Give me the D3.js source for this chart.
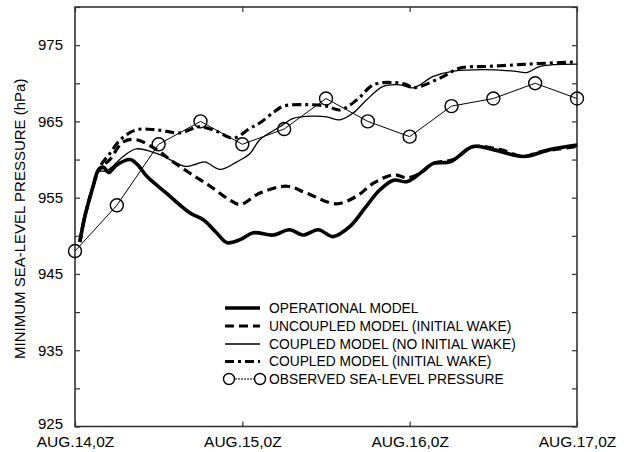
<!DOCTYPE html>
<html>
<head>
<meta charset="utf-8">
<script src="https://cdn.jsdelivr.net/npm/d3@7"></script>
<style>
  body { margin: 0; background: #fff; }
  svg { display: block; font-family: "Liberation Sans", Arial, sans-serif; }
  .tick line { stroke: #333; stroke-width: 1.2; }
</style>
</head>
<body>
<div id="chart"></div>
<script>
// hours after AUG.14,0Z and minimum sea-level pressure (hPa)
const xTickHours = [0, 24, 48, 72];
const xTickLabels = ['AUG.14,0Z', 'AUG.15,0Z', 'AUG.16,0Z', 'AUG.17,0Z'];

const operational = [[0.7,949.2],[1.4,952.5],[2.6,956.5],[3.3,958.5],[4.1,959.0],[4.8,958.3],[6.0,959.3],[7.9,960.0],[9.0,959.3],[10.3,957.8],[13.1,955.6],[16.5,953.0],[18.4,952.1],[20.3,950.4],[21.8,949.1],[23.7,949.5],[25.6,950.4],[28.4,950.1],[30.8,950.8],[32.7,950.1],[34.9,950.8],[37,949.9],[39.4,951.2],[41.8,953.9],[43.7,956.0],[45.7,957.3],[47.6,957.1],[49.5,958.2],[51.4,959.5],[53.8,959.7],[57.1,961.7],[60,961.3],[64.3,960.4],[68.1,961.3],[72,961.9]];

const uncoupledWake = [[0.7,949.2],[1.4,952.5],[2.6,956.5],[3.3,958.6],[4.1,959.3],[5.0,960.0],[6.9,962.3],[8.8,962.6],[11.7,961.3],[13.6,960.0],[16.5,958.2],[19.4,956.5],[22.2,954.7],[23.7,954.1],[26.5,955.6],[30.4,956.5],[33.2,955.6],[37.5,954.2],[40.4,955.2],[42.8,956.9],[45.7,958.0],[47.6,957.6],[49.5,958.2],[51.4,959.5],[54.3,960.0],[57.1,961.7],[61,961.3],[64.3,960.4],[66.7,961.0],[72,961.7]];

const coupledNoWake = [[0.7,949.2],[1.4,952.5],[2.6,956.5],[3.3,958.4],[4.5,958.5],[5.5,959.2],[6.9,960.4],[8.8,961.4],[11.7,960.8],[13.6,960.0],[15.8,959.1],[17.0,959.3],[18.6,959.7],[20.8,958.7],[23.2,959.7],[25.1,960.8],[26.5,962.6],[29.4,964.3],[31.3,965.4],[34.2,965.7],[36.1,965.6],[38,965.2],[39.9,966.1],[41.8,967.8],[44.2,969.6],[46.6,969.8],[48.5,969.4],[51.4,970.9],[54.3,971.6],[58.6,971.8],[62.9,971.6],[64.8,971.4],[66.7,972.2],[72,972.5]];

const coupledWake = [[0.7,949.2],[1.4,952.5],[2.6,956.5],[3.6,959.1],[5.0,960.8],[6.5,962.6],[8.8,963.9],[11.7,963.9],[15.1,963.5],[17.9,964.3],[20.3,963.7],[22.7,962.8],[25.1,964.1],[26.5,964.8],[28.5,966.2],[29.9,967.0],[33.2,967.2],[36.1,967.0],[38,966.5],[40.4,967.8],[42.8,969.8],[45.7,970.1],[47.6,969.8],[48.5,969.4],[52.4,970.7],[55.2,972.0],[59,972.2],[62.9,972.4],[66.7,972.6],[72,972.8]];

const obsHours = [0, 6, 12, 18, 24, 30, 36, 42, 48, 54, 60, 66, 72];
const obsValues = [948, 954, 962, 965, 962, 964, 968, 965, 963, 967, 968, 970, 968];

const seriesNames = ['OPERATIONAL MODEL', 'UNCOUPLED MODEL (INITIAL WAKE)', 'COUPLED MODEL (NO INITIAL WAKE)', 'COUPLED MODEL (INITIAL WAKE)', 'OBSERVED SEA-LEVEL PRESSURE'];

const width = 624, height = 452;
const margin = { left: 75, right: 47, top: 7, bottom: 25.5 };

const svg = d3.select('#chart').append('svg')
    .attr('width', width)
    .attr('height', height);

const x = d3.scaleLinear().domain([0, 72]).range([margin.left, width - margin.right]);
const y = d3.scaleLinear().domain([925, 980]).range([height - margin.bottom, margin.top]);

// styles per series
const styles = [
    { data: operational, width: 3.6, dash: null },
    { data: uncoupledWake, width: 3.2, dash: '9,5' },
    { data: coupledNoWake, width: 1.3, dash: null },
    { data: coupledWake, width: 3.1, dash: '9,4,3,4' }
];

// axes, ticks pointing inward
const yTicks = d3.range(925, 981, 5);
svg.append('g')
    .attr('transform', `translate(${margin.left},0)`)
    .call(d3.axisLeft(y).tickValues(yTicks).tickSize(-5).tickPadding(12)
        .tickFormat(d => d % 10 === 5 ? d : ''))
    .call(g => g.select('.domain').remove())
    .call(g => g.selectAll('text').attr('font-size', 15).attr('fill', '#000'))
    .call(g => g.selectAll('text').filter(d => d === 925).attr('y', -3));

svg.append('g')
    .attr('transform', `translate(${width - margin.right},0)`)
    .call(d3.axisRight(y).tickValues(yTicks).tickSize(-5).tickFormat(''))
    .call(g => g.select('.domain').remove());

svg.append('g')
    .attr('transform', `translate(0,${height - margin.bottom})`)
    .call(d3.axisBottom(x).tickValues(xTickHours).tickSize(-5).tickPadding(9)
        .tickFormat((d, i) => xTickLabels[i]))
    .call(g => g.select('.domain').remove())
    .call(g => g.selectAll('text').attr('font-size', 15.5).attr('fill', '#000'));

svg.append('g')
    .attr('transform', `translate(0,${margin.top})`)
    .call(d3.axisTop(x).tickValues(xTickHours).tickSize(-5).tickFormat(''))
    .call(g => g.select('.domain').remove());

// frame
svg.append('rect')
    .attr('x', x(0))
    .attr('y', y(980))
    .attr('width', x(72) - x(0))
    .attr('height', y(925) - y(980))
    .attr('fill', 'none')
    .attr('stroke', '#333')
    .attr('stroke-width', 1.6);

// y title
svg.append('text')
    .attr('transform', `translate(25,${(y(925) + y(980)) / 2 + 2}) rotate(-90)`)
    .attr('text-anchor', 'middle')
    .attr('font-size', 15)
    .text('MINIMUM SEA-LEVEL PRESSURE (hPa)');

// model curves
const line = d3.line()
    .x(d => x(d[0]))
    .y(d => y(d[1]))
    .curve(d3.curveCatmullRom.alpha(0.5));

svg.append('g').selectAll('path')
    .data(styles)
    .join('path')
    .attr('d', d => line(d.data))
    .attr('fill', 'none')
    .attr('stroke', '#000')
    .attr('stroke-width', d => d.width)
    .attr('stroke-dasharray', d => d.dash)
    .attr('stroke-linejoin', 'round');

// observations
const obs = obsHours.map((h, i) => [h, obsValues[i]]);
svg.append('path')
    .attr('d', d3.line().x(d => x(d[0])).y(d => y(d[1]))(obs))
    .attr('fill', 'none')
    .attr('stroke', '#000')
    .attr('stroke-width', 1);

svg.append('g').selectAll('circle')
    .data(obs)
    .join('circle')
    .attr('cx', d => x(d[0]))
    .attr('cy', d => y(d[1]))
    .attr('r', 6.5)
    .attr('fill', 'none')
    .attr('stroke', '#000')
    .attr('stroke-width', 1.4);

// legend
const legendY = [308, 326, 344, 361.5, 379];
const legend = svg.append('g');
styles.forEach((s, i) => {
    legend.append('line')
        .attr('x1', 225).attr('x2', 260)
        .attr('y1', legendY[i]).attr('y2', legendY[i])
        .attr('stroke', '#000')
        .attr('stroke-width', s.width)
        .attr('stroke-dasharray', s.dash);
});
legend.append('line')
    .attr('x1', 229).attr('x2', 260)
    .attr('y1', legendY[4]).attr('y2', legendY[4])
    .attr('stroke', '#000')
    .attr('stroke-width', 1)
    .attr('stroke-dasharray', '2,1');
[229, 260].forEach(cx => {
    legend.append('circle')
        .attr('cx', cx).attr('cy', legendY[4]).attr('r', 5.5)
        .attr('fill', '#fff').attr('stroke', '#000').attr('stroke-width', 1.4);
});
legend.selectAll('text')
    .data(seriesNames)
    .join('text')
    .attr('x', 269)
    .attr('y', (d, i) => legendY[i])
    .attr('dy', '0.35em')
    .attr('font-size', 13.8)
    .text(d => d);
</script>
</body>
</html>
